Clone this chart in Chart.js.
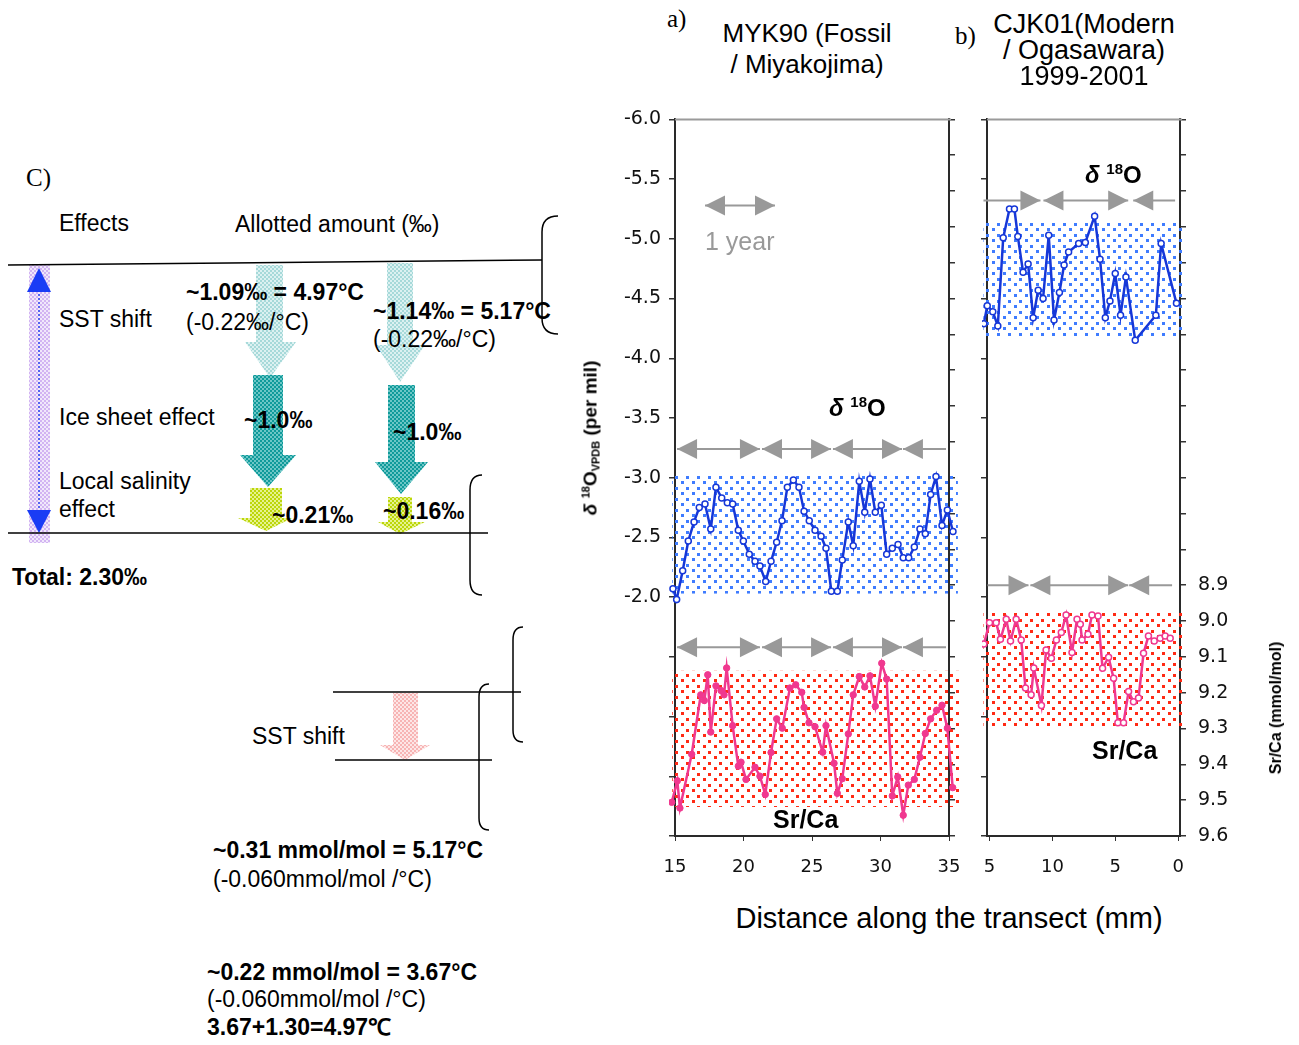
<!DOCTYPE html>
<html>
<head>
<meta charset="utf-8">
<script src="https://cdn.jsdelivr.net/npm/chart.js@4.4.0/dist/chart.umd.min.js"></script>
<style>
body { margin:0; width:1299px; height:1045px; position:relative; overflow:hidden; background:#fff; font-family:"Liberation Sans", Arial, sans-serif; color:#000; }
.t { position:absolute; white-space:nowrap; line-height:1; font-size:23px; }
.b { font-weight:bold; }
.c { transform:translateX(-50%); }
.tm { font-family:"Liberation Serif", "Times New Roman", serif; font-size:25px; }
canvas { position:absolute; }
.up { position:relative; top:-9px; font-size:15px; }
</style>
</head>
<body>

<!-- C) diagram -->
<svg width="600" height="1045" style="position:absolute;left:0;top:0">
  <defs>
    <pattern id="pCyan" width="4" height="4" patternUnits="userSpaceOnUse"><rect width="4" height="4" fill="#dcf1f1"/><rect width="2" height="2" fill="#a6d9d9"/><rect x="2" y="2" width="2" height="2" fill="#a6d9d9"/></pattern>
    <pattern id="pTeal" width="4" height="4" patternUnits="userSpaceOnUse"><rect width="4" height="4" fill="#6cc6c6"/><rect width="2" height="2" fill="#0f9a9a"/><rect x="2" y="2" width="2" height="2" fill="#0f9a9a"/></pattern>
    <pattern id="pLime" width="4" height="4" patternUnits="userSpaceOnUse"><rect width="4" height="4" fill="#e6f290"/><rect width="2" height="2" fill="#bcd60a"/><rect x="2" y="2" width="2" height="2" fill="#bcd60a"/></pattern>
    <pattern id="pPink" width="4" height="4" patternUnits="userSpaceOnUse"><rect width="4" height="4" fill="#fde6e6"/><rect width="2" height="2" fill="#f7b4b4"/><rect x="2" y="2" width="2" height="2" fill="#f7b4b4"/></pattern>
    <pattern id="pPurple" width="4" height="4" patternUnits="userSpaceOnUse"><rect width="4" height="4" fill="#f1e8fb"/><rect width="2" height="2" fill="#d2b4f2"/><rect x="2" y="2" width="2" height="2" fill="#d2b4f2"/></pattern>
  </defs>
  <rect x="29" y="265" width="21" height="278" fill="url(#pPurple)"/>
  <line x1="39" y1="290" x2="39" y2="512" stroke="#2a45f0" stroke-width="1.5" stroke-dasharray="2 2"/>
  <polygon points="39,268 51,292 27,292" fill="#1a3cf5"/>
  <polygon points="27,510 51,510 39,533" fill="#1a3cf5"/>

  <polygon points="256,265 283,265 283,342 296,342 270,378 245,342 256,342" fill="url(#pCyan)"/>
  <polygon points="253,375 283,375 283,455 296,455 268,487 240,455 253,455" fill="url(#pTeal)"/>
  <polygon points="250,488 282,488 282,518 292,518 266,531 238,518 250,518" fill="url(#pLime)"/>
  <polygon points="387,263 413,263 413,345 425,345 400,382 376,345 387,345" fill="url(#pCyan)"/>
  <polygon points="388,385 415,385 415,462 428,462 401,494 375,462 388,462" fill="url(#pTeal)"/>
  <polygon points="388,497 412,497 412,522 425,522 400,534 378,522 388,522" fill="url(#pLime)"/>
  <polygon points="393,693 418,693 418,745 430,745 405,760 380,745 393,745" fill="url(#pPink)"/>

  <g stroke="#000" stroke-width="1.5" fill="none">
    <line x1="8" y1="265" x2="542" y2="260"/>
    <line x1="8" y1="533" x2="488" y2="533"/>
    <path d="M558,216 Q542,216 542,232 L542,318 Q542,334 558,334"/>
    <path d="M482,475 Q470,475 470,490 L470,580 Q470,595 482,595"/>
    <line x1="333" y1="692" x2="521" y2="692"/>
    <line x1="335" y1="760" x2="492" y2="760"/>
    <path d="M523,627 Q513,627 513,640 L513,730 Q513,742 523,742"/>
    <path d="M489,684 Q479,684 479,697 L479,818 Q479,830 489,830"/>
  </g>
</svg>

<div class="t tm" style="left:26px;top:165px">C)</div>
<div class="t" style="left:59px;top:212px">Effects</div>
<div class="t" style="left:235px;top:213px">Allotted amount (‰)</div>
<div class="t b" style="left:186px;top:281px">~1.09‰ = 4.97°C</div>
<div class="t" style="left:186px;top:311px">(-0.22‰/°C)</div>
<div class="t b" style="left:373px;top:300px">~1.14‰ = 5.17°C</div>
<div class="t" style="left:373px;top:328px">(-0.22‰/°C)</div>
<div class="t" style="left:59px;top:308px">SST shift</div>
<div class="t" style="left:59px;top:406px">Ice sheet effect</div>
<div class="t b" style="left:244px;top:409px">~1.0‰</div>
<div class="t b" style="left:393px;top:421px">~1.0‰</div>
<div class="t" style="left:59px;top:470px">Local salinity</div>
<div class="t" style="left:59px;top:498px">effect</div>
<div class="t b" style="left:272px;top:504px">~0.21‰</div>
<div class="t b" style="left:383px;top:500px">~0.16‰</div>
<div class="t b" style="left:12px;top:566px">Total: 2.30‰</div>
<div class="t" style="left:252px;top:725px">SST shift</div>
<div class="t b" style="left:213px;top:839px">~0.31 mmol/mol = 5.17°C</div>
<div class="t" style="left:213px;top:868px">(-0.060mmol/mol /°C)</div>
<div class="t b" style="left:207px;top:961px">~0.22 mmol/mol = 3.67°C</div>
<div class="t" style="left:207px;top:988px">(-0.060mmol/mol /°C)</div>
<div class="t b" style="left:207px;top:1016px">3.67+1.30=4.97℃</div>

<!-- charts a) and b) -->
<canvas id="chartA" width="420" height="800" style="left:560px;top:96px;width:420px;height:800px"></canvas>
<canvas id="chartB" width="329" height="800" style="left:970px;top:96px;width:329px;height:800px"></canvas>

<div class="t tm" style="left:667px;top:6px">a)</div>
<div class="t c" style="left:807px;top:20px;font-size:26px">MYK90 (Fossil</div>
<div class="t c" style="left:807px;top:51px;font-size:26px">/ Miyakojima)</div>
<div class="t tm" style="left:955px;top:23px">b)</div>
<div class="t c" style="left:1084px;top:11px;font-size:27px">CJK01(Modern</div>
<div class="t c" style="left:1084px;top:37px;font-size:27px">/ Ogasawara)</div>
<div class="t c" style="left:1084px;top:63px;font-size:27px">1999-2001</div>
<div class="t" style="left:705px;top:229px;font-size:25px;color:#999">1 year</div>
<div class="t b" style="left:829px;top:396px;font-size:24px"><i>δ</i> <span class="up">18</span>O</div>
<div class="t b" style="left:1085px;top:163px;font-size:24px"><i>δ</i> <span class="up">18</span>O</div>
<div class="t b" style="left:773px;top:807px;font-size:25px">Sr/Ca</div>
<div class="t b" style="left:1092px;top:738px;font-size:25px">Sr/Ca</div>
<div class="t c" style="left:949px;top:904px;font-size:29px">Distance along the transect (mm)</div>
<div class="t b" style="left:590px;top:438px;font-size:19px;transform:translate(-50%,-50%) rotate(-90deg)"><i>δ</i> <span style="font-size:11px;position:relative;top:-7px">18</span>O<span style="font-size:11px;position:relative;top:3px">VPDB</span> (per mil)</div>
<div class="t b" style="left:1276px;top:708px;font-size:16px;transform:translate(-50%,-50%) rotate(-90deg)">Sr/Ca (mmol/mol)</div>

<script>
// a) MYK90 fossil - d18O
const aD18oX = [14.85, 15.12, 15.56, 15.97, 16.39, 16.77, 17.19, 17.61, 17.99, 18.41, 18.82, 19.21, 19.62, 19.99, 20.42, 20.84, 21.20, 21.62, 22.01, 22.42, 22.81, 23.20, 23.64, 24.05, 24.42, 24.80, 25.22, 25.66, 26.02, 26.41, 26.85, 27.21, 27.65, 28.01, 28.45, 28.85, 29.23, 29.62, 30.06, 30.45, 30.86, 31.28, 31.66, 32.06, 32.47, 32.88, 33.27, 33.66, 34.05, 34.49, 34.88, 35.29];
const aD18o = [-2.07, -1.98, -2.22, -2.47, -2.63, -2.75, -2.78, -2.57, -2.92, -2.83, -2.79, -2.78, -2.56, -2.47, -2.36, -2.30, -2.26, -2.13, -2.30, -2.46, -2.64, -2.92, -2.98, -2.92, -2.72, -2.64, -2.56, -2.51, -2.41, -2.05, -2.05, -2.31, -2.63, -2.43, -2.97, -2.71, -2.99, -2.71, -2.77, -2.36, -2.41, -2.44, -2.33, -2.33, -2.42, -2.57, -2.53, -2.86, -3.01, -2.60, -2.73, -2.55];
// a) MYK90 fossil - Sr/Ca
const aSrCaX = [14.76, 15.17, 15.36, 16.22, 16.88, 17.14, 17.39, 17.61, 17.99, 18.36, 18.58, 18.77, 19.21, 19.62, 19.82, 20.18, 20.84, 21.20, 21.59, 22.01, 22.42, 22.83, 23.39, 23.81, 24.25, 24.42, 24.78, 25.22, 25.78, 26.02, 26.61, 26.85, 27.21, 27.65, 28.01, 28.45, 28.85, 29.23, 29.62, 30.09, 30.45, 30.86, 31.26, 31.66, 32.03, 32.47, 32.88, 33.27, 33.66, 34.10, 34.49, 34.88, 35.27];
const aSrCa = [9.506, 9.446, 9.522, 9.372, 9.206, 9.222, 9.150, 9.310, 9.181, 9.194, 9.206, 9.131, 9.292, 9.405, 9.394, 9.442, 9.408, 9.433, 9.484, 9.367, 9.273, 9.299, 9.187, 9.178, 9.199, 9.241, 9.284, 9.295, 9.366, 9.292, 9.397, 9.481, 9.440, 9.315, 9.206, 9.155, 9.184, 9.153, 9.238, 9.118, 9.162, 9.488, 9.435, 9.542, 9.458, 9.442, 9.380, 9.314, 9.273, 9.249, 9.235, 9.299, 9.465];

// b) CJK01 modern - d18O
const bD18oX = [15.45, 15.18, 14.74, 14.34, 13.91, 13.41, 13.02, 12.75, 12.33, 11.93, 11.53, 11.13, 10.74, 10.29, 9.87, 9.44, 9.07, 8.71, 7.91, 7.38, 6.64, 6.21, 5.79, 5.42, 5.00, 4.58, 4.15, 3.41, 1.77, 1.35, 0.13];
const bD18o = [-4.29, -4.44, -4.39, -4.27, -5.01, -5.25, -5.25, -5.02, -4.72, -4.79, -4.34, -4.57, -4.50, -5.03, -4.32, -4.55, -4.78, -4.89, -4.96, -4.97, -5.19, -4.83, -4.34, -4.48, -4.71, -4.36, -4.68, -4.15, -4.36, -4.96, -4.46];
// b) CJK01 modern - Sr/Ca
const bSrCaX = [15.45, 15.00, 14.47, 14.13, 13.67, 13.33, 12.88, 12.48, 12.14, 11.69, 11.48, 10.87, 10.50, 10.08, 9.68, 9.29, 8.91, 8.44, 8.04, 7.78, 7.64, 7.17, 6.85, 6.37, 6.01, 5.53, 5.13, 4.79, 4.34, 3.94, 3.55, 3.15, 2.75, 2.36, 1.90, 1.43, 1.03, 0.63];
const bSrCa = [9.064, 9.005, 9.005, 9.051, 8.995, 9.056, 8.995, 9.053, 9.187, 9.206, 9.131, 9.236, 9.081, 9.104, 9.053, 9.032, 8.983, 9.088, 8.995, 9.009, 9.053, 9.037, 8.983, 8.986, 9.132, 9.101, 9.160, 9.284, 9.284, 9.197, 9.225, 9.215, 9.090, 9.042, 9.056, 9.048, 9.042, 9.048];

// tick values
const d18oTicks = [-6.0, -5.5, -5.0, -4.5, -4.0, -3.5, -3.0, -2.5, -2.0, -1.5, -1.0, -0.5, 0];
const srcaTicks = [7.6, 7.7, 7.8, 7.9, 8.0, 8.1, 8.2, 8.3, 8.4, 8.5, 8.6, 8.7, 8.8, 8.9, 9.0, 9.1, 9.2, 9.3, 9.4, 9.5, 9.6];
const aXTicks = [15, 20, 25, 30, 35];
const bXTicks = [0, 5, 10, 15];
const bXLabels = ['0', '5', '10', '5'];

// shaded ranges (x range, y range)
const aBandD18o = [[14.8, 35.65], [-3.02, -2.03]];
const aBandSrCa = [[14.8, 35.8], [9.139, 9.519]];
const bBandD18o = [[15.48, -0.4], [-5.15, -4.17]];
const bBandSrCa = [[15.48, -0.4], [8.974, 9.298]];

// annual band markers: [from, to, head at from, head at to]
const aYearSegs = [[15.15, 21.2, 1, 1], [21.35, 26.39, 1, 1], [26.53, 31.57, 1, 1], [31.64, 34.78, 1, 0]];
const aYearD18oLevel = -3.24;
const aYearSrCaLevel = 9.073;
const oneYearSeg = [[17.19, 22.3, 1, 1]];
const oneYearLevel = -5.28;
const bYearSegsD18o = [[15.48, 10.95, 0, 1], [10.71, 3.97, 1, 1], [3.57, 0.24, 1, 0]];
const bYearSegsSrCa = [[15.16, 11.9, 0, 1], [11.75, 3.97, 1, 1], [3.89, 0.48, 1, 0]];
const bYearD18oLevel = -5.32;
const bYearSrCaLevel = 8.90;

const BLUE = '#1637d8';
const PINK = '#f0388f';

function dotPattern(color) {
    const c = document.createElement('canvas');
    c.width = 11; c.height = 11;
    const g = c.getContext('2d');
    g.fillStyle = color;
    g.fillRect(0, 0, 3, 3);
    g.fillRect(5, 6, 3, 3);
    return c;
}
const bluePat = dotPattern('#3f7cff');
const redPat = dotPattern('#ff2a14');

const bandPlugin = {
    id: 'bands',
    beforeDatasetsDraw(chart, args, opts) {
        const ctx = chart.ctx, xs = chart.scales.x;
        ctx.save();
        opts.list.forEach(b => {
            const ys = chart.scales[b.axis];
            const x1 = xs.getPixelForValue(b.range[0][0]), x2 = xs.getPixelForValue(b.range[0][1]);
            const y1 = ys.getPixelForValue(b.range[1][0]), y2 = ys.getPixelForValue(b.range[1][1]);
            ctx.fillStyle = ctx.createPattern(b.pat, 'repeat');
            ctx.fillRect(Math.min(x1, x2), Math.min(y1, y2), Math.abs(x2 - x1), Math.abs(y2 - y1));
        });
        ctx.restore();
    }
};

function head(ctx, tip, other, y) {
    const d = tip > other ? 1 : -1;
    ctx.beginPath();
    ctx.moveTo(tip, y);
    ctx.lineTo(tip - d * 20, y - 10);
    ctx.lineTo(tip - d * 20, y + 10);
    ctx.closePath();
    ctx.fill();
}

const arrowPlugin = {
    id: 'yearArrows',
    afterDatasetsDraw(chart, args, opts) {
        const ctx = chart.ctx, xs = chart.scales.x;
        ctx.save();
        ctx.strokeStyle = '#999';
        ctx.fillStyle = '#999';
        ctx.lineWidth = 2;
        opts.rows.forEach(row => {
            const y = chart.scales[row.axis].getPixelForValue(row.level);
            row.segs.forEach(s => {
                const a = xs.getPixelForValue(s[0]), b = xs.getPixelForValue(s[1]);
                ctx.beginPath();
                ctx.moveTo(a, y);
                ctx.lineTo(b, y);
                ctx.stroke();
                if (s[2]) head(ctx, a, b, y);
                if (s[3]) head(ctx, b, a, y);
            });
        });
        // top frame line
        const ca = chart.chartArea;
        ctx.strokeStyle = '#9a9a9a';
        ctx.beginPath();
        ctx.moveTo(ca.left, ca.top);
        ctx.lineTo(ca.right + 2, ca.top);
        ctx.stroke();
        ctx.restore();
    }
};

function pts(xs, ys) {
    return xs.map((x, i) => ({ x: x, y: ys[i] }));
}

function setTicks(arr) {
    return s => { s.ticks = arr.map(v => ({ value: v })); };
}

const tickFont = { family: "'DejaVu Sans'", size: 19 };

function yAxis(pos, min, max, ticks, width, labelFn) {
    return {
        type: 'linear', position: pos, min: min, max: max, reverse: true,
        afterBuildTicks: setTicks(ticks),
        afterFit: s => { s.width = width; },
        grid: { drawOnChartArea: false, tickLength: 6, color: '#333', lineWidth: 1.5 },
        border: { color: '#2a2a2a', width: 2 },
        ticks: { font: tickFont, color: '#111', padding: pos === 'left' ? 8 : 12, callback: labelFn }
    };
}

const common = {
    responsive: false,
    animation: false,
    layout: { padding: { top: 14, left: 0, right: 0, bottom: 0 } },
    plugins: { legend: { display: false }, tooltip: { enabled: false } }
};

const ctxA = document.getElementById('chartA').getContext('2d');
const chartA = new Chart(ctxA, {
    type: 'line',
    data: {
        datasets: [{
            label: 'd18O',
            data: pts(aD18oX, aD18o),
            yAxisID: 'yd',
            borderColor: BLUE, borderWidth: 2.5,
            pointRadius: 3, pointBackgroundColor: '#fff', pointBorderColor: BLUE, pointBorderWidth: 1.5,
            clip: { left: 6, right: 8, top: 0, bottom: 0 }
        }, {
            label: 'Sr/Ca',
            data: pts(aSrCaX, aSrCa),
            yAxisID: 'ys',
            borderColor: PINK, borderWidth: 2.5,
            pointRadius: 3.2, pointBackgroundColor: PINK, pointBorderColor: PINK, pointBorderWidth: 1,
            clip: { left: 6, right: 8, top: 0, bottom: 0 }
        }]
    },
    options: Object.assign({}, common, {
        scales: {
            x: {
                type: 'linear', position: 'bottom', min: 15, max: 35,
                afterBuildTicks: setTicks(aXTicks),
                afterFit: s => { s.height = 60; },
                grid: { drawOnChartArea: false, tickLength: 5, color: '#333' },
                border: { color: '#2a2a2a', width: 2 },
                ticks: { font: { family: "'DejaVu Sans'", size: 18 }, color: '#111', padding: 16, maxRotation: 0 }
            },
            yd: yAxis('left', -6, 0, d18oTicks, 115, v => v <= -1.99 ? v.toFixed(1) : ''),
            ys: yAxis('right', 7.6, 9.6, srcaTicks, 31, v => '')
        },
        plugins: Object.assign({}, common.plugins, {
            bands: { list: [
                { axis: 'yd', range: aBandD18o, pat: bluePat },
                { axis: 'ys', range: aBandSrCa, pat: redPat }
            ] },
            yearArrows: { rows: [
                { axis: 'yd', level: aYearD18oLevel, segs: aYearSegs },
                { axis: 'ys', level: aYearSrCaLevel, segs: aYearSegs },
                { axis: 'yd', level: oneYearLevel, segs: oneYearSeg }
            ] }
        })
    }),
    plugins: [bandPlugin, arrowPlugin]
});

const ctxB = document.getElementById('chartB').getContext('2d');
const chartB = new Chart(ctxB, {
    type: 'line',
    data: {
        datasets: [{
            label: 'd18O',
            data: pts(bD18oX, bD18o),
            yAxisID: 'yd',
            borderColor: BLUE, borderWidth: 2.5,
            pointRadius: 3, pointBackgroundColor: '#fff', pointBorderColor: BLUE, pointBorderWidth: 1.5,
            clip: { left: 5, right: 4, top: 0, bottom: 0 }
        }, {
            label: 'Sr/Ca',
            data: pts(bSrCaX, bSrCa),
            yAxisID: 'ys',
            borderColor: PINK, borderWidth: 2.5,
            pointRadius: 3, pointBackgroundColor: '#fff', pointBorderColor: PINK, pointBorderWidth: 1.5,
            clip: { left: 5, right: 4, top: 0, bottom: 0 }
        }]
    },
    options: Object.assign({}, common, {
        scales: {
            x: {
                type: 'linear', position: 'bottom', min: -0.15, max: 15.2, reverse: true,
                afterBuildTicks: setTicks(bXTicks),
                afterFit: s => { s.height = 60; },
                grid: { drawOnChartArea: false, tickLength: 5, color: '#333' },
                border: { color: '#2a2a2a', width: 2 },
                ticks: { font: { family: "'DejaVu Sans'", size: 18 }, color: '#111', padding: 16, maxRotation: 0,
                    callback: (v, i) => bXLabels[i] }
            },
            yd: yAxis('left', -6, 0, d18oTicks, 17, v => ''),
            ys: yAxis('right', 7.6, 9.6, srcaTicks, 119, v => v >= 8.89 ? v.toFixed(1) : '')
        },
        plugins: Object.assign({}, common.plugins, {
            bands: { list: [
                { axis: 'yd', range: bBandD18o, pat: bluePat },
                { axis: 'ys', range: bBandSrCa, pat: redPat }
            ] },
            yearArrows: { rows: [
                { axis: 'yd', level: bYearD18oLevel, segs: bYearSegsD18o },
                { axis: 'ys', level: bYearSrCaLevel, segs: bYearSegsSrCa }
            ] }
        })
    }),
    plugins: [bandPlugin, arrowPlugin]
});
</script>
</body>
</html>
